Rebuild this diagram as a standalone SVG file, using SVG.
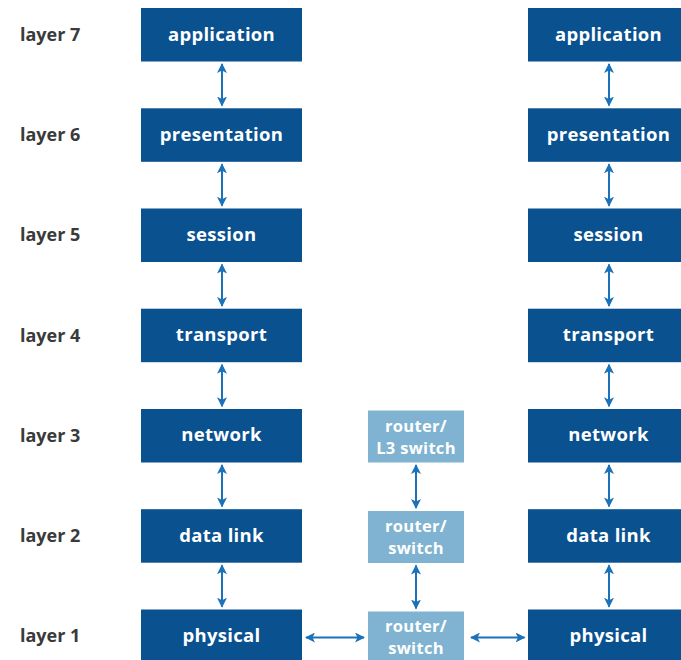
<svg xmlns="http://www.w3.org/2000/svg" width="681" height="660" viewBox="0 0 681 660">
  <defs>
    <style>
      .lbl { font-family: "Open Sans", "Liberation Sans", sans-serif; font-weight: bold; font-size: 18px; fill: #3a3a3a; }
      .box { fill: #0a5190; }
      .rbox { fill: #7fb3d1; }
      .txt { font-family: "Open Sans", "Liberation Sans", sans-serif; font-weight: bold; font-size: 18.5px; letter-spacing: 0.3px; fill: #ffffff; text-anchor: middle; }
      .stxt { font-family: "Open Sans", "Liberation Sans", sans-serif; font-weight: bold; font-size: 16.5px; letter-spacing: 0.3px; fill: #ffffff; text-anchor: middle; }
      .conn { stroke: #1b72b8; stroke-width: 2; fill: none; marker-start: url(#ah); marker-end: url(#ah); }
    </style>
    <marker id="ah" viewBox="0 0 10 10" refX="9" refY="5" markerWidth="5" markerHeight="5" orient="auto-start-reverse" markerUnits="strokeWidth">
      <path d="M0,0 L10,5 L0,10 L2.5,5 Z" fill="#1b72b8"/>
    </marker>
  </defs>
  <rect width="681" height="660" fill="#ffffff"/>

  <!-- layer labels -->
  <g id="labels">
    <text class="lbl" x="20" y="41">layer 7</text>
    <text class="lbl" x="20" y="141">layer 6</text>
    <text class="lbl" x="20" y="241">layer 5</text>
    <text class="lbl" x="20" y="342">layer 4</text>
    <text class="lbl" x="20" y="442">layer 3</text>
    <text class="lbl" x="20" y="542">layer 2</text>
    <text class="lbl" x="20" y="642">layer 1</text>
  </g>

  <!-- left host stack -->
  <g id="l-application"><rect class="box" x="141" y="8" width="161" height="53.5"/><text class="txt" x="221.5" y="41">application</text></g>
  <g id="l-presentation"><rect class="box" x="141" y="108.3" width="161" height="53.5"/><text class="txt" x="221.5" y="141">presentation</text></g>
  <g id="l-session"><rect class="box" x="141" y="208.5" width="161" height="53.5"/><text class="txt" x="221.5" y="241">session</text></g>
  <g id="l-transport"><rect class="box" x="141" y="308.7" width="161" height="53.5"/><text class="txt" x="221.5" y="341">transport</text></g>
  <g id="l-network"><rect class="box" x="141" y="409" width="161" height="53.5"/><text class="txt" x="221.5" y="441">network</text></g>
  <g id="l-datalink"><rect class="box" x="141" y="509.2" width="161" height="53.5"/><text class="txt" x="221.5" y="542">data link</text></g>
  <g id="l-physical"><rect class="box" x="141" y="609.5" width="161" height="53.5"/><text class="txt" x="221.5" y="642">physical</text></g>

  <!-- intermediate devices -->
  <g id="m-l3"><rect class="rbox" x="368" y="410.5" width="96" height="52"/><text class="stxt" x="416" y="432">router/</text><text class="stxt" x="416" y="454">L3 switch</text></g>
  <g id="m-l2"><rect class="rbox" x="368" y="511" width="96" height="52"/><text class="stxt" x="416" y="532">router/</text><text class="stxt" x="416" y="554">switch</text></g>
  <g id="m-l1"><rect class="rbox" x="368" y="611.5" width="96" height="52"/><text class="stxt" x="416" y="632">router/</text><text class="stxt" x="416" y="654">switch</text></g>

  <!-- right host stack -->
  <g id="r-application"><rect class="box" x="528" y="8" width="161" height="53.5"/><text class="txt" x="608.5" y="41">application</text></g>
  <g id="r-presentation"><rect class="box" x="528" y="108.3" width="161" height="53.5"/><text class="txt" x="608.5" y="141">presentation</text></g>
  <g id="r-session"><rect class="box" x="528" y="208.5" width="161" height="53.5"/><text class="txt" x="608.5" y="241">session</text></g>
  <g id="r-transport"><rect class="box" x="528" y="308.7" width="161" height="53.5"/><text class="txt" x="608.5" y="341">transport</text></g>
  <g id="r-network"><rect class="box" x="528" y="409" width="161" height="53.5"/><text class="txt" x="608.5" y="441">network</text></g>
  <g id="r-datalink"><rect class="box" x="528" y="509.2" width="161" height="53.5"/><text class="txt" x="608.5" y="542">data link</text></g>
  <g id="r-physical"><rect class="box" x="528" y="609.5" width="161" height="53.5"/><text class="txt" x="608.5" y="642">physical</text></g>

  <!-- connectors -->
  <g id="connectors">
    <line class="conn" x1="222" y1="64" x2="222" y2="105.5"/>
    <line class="conn" x1="222" y1="164.3" x2="222" y2="205.7"/>
    <line class="conn" x1="222" y1="264.5" x2="222" y2="305.9"/>
    <line class="conn" x1="222" y1="364.7" x2="222" y2="406.2"/>
    <line class="conn" x1="222" y1="465" x2="222" y2="506.4"/>
    <line class="conn" x1="222" y1="565.2" x2="222" y2="606.7"/>

    <line class="conn" x1="609" y1="64" x2="609" y2="105.5"/>
    <line class="conn" x1="609" y1="164.3" x2="609" y2="205.7"/>
    <line class="conn" x1="609" y1="264.5" x2="609" y2="305.9"/>
    <line class="conn" x1="609" y1="364.7" x2="609" y2="406.2"/>
    <line class="conn" x1="609" y1="465" x2="609" y2="506.4"/>
    <line class="conn" x1="609" y1="565.2" x2="609" y2="606.7"/>

    <line class="conn" x1="416" y1="465" x2="416" y2="508"/>
    <line class="conn" x1="416" y1="565.5" x2="416" y2="608.5"/>

    <line class="conn" x1="306" y1="637.5" x2="364" y2="637.5"/>
    <line class="conn" x1="471" y1="637.5" x2="524.5" y2="637.5"/>
  </g>
</svg>
